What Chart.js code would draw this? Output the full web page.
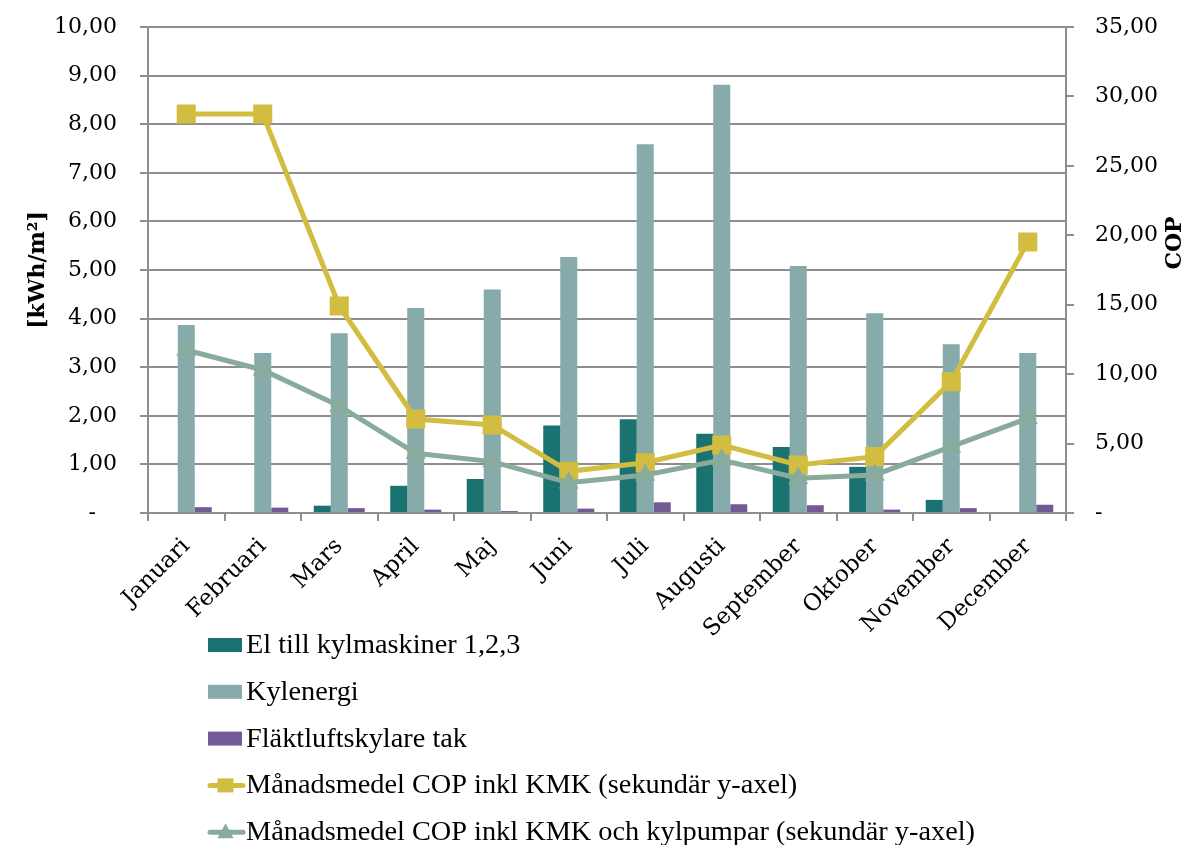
<!DOCTYPE html>
<html lang="sv">
<head>
<meta charset="utf-8">
<title>Kylenergi och COP per månad</title>
<script src="https://cdn.jsdelivr.net/npm/chart.js@4/dist/chart.umd.min.js"></script>
<style>
  html, body { margin: 0; padding: 0; background: #ffffff; }
  #wrap { width: 1189px; height: 845px; position: relative; }
</style>
</head>
<body>
<div id="wrap"><canvas id="chart" width="1189" height="845"></canvas></div>
<script>
// Månader
const months = ['Januari', 'Februari', 'Mars', 'April', 'Maj', 'Juni', 'Juli',
                'Augusti', 'September', 'Oktober', 'November', 'December'];

// Primär axel [kWh/m²]
const elKylmaskiner = [0.00, 0.00, 0.15, 0.56, 0.70, 1.80, 1.93, 1.63, 1.36, 0.95, 0.27, 0.00];
const kylenergi     = [3.87, 3.29, 3.70, 4.22, 4.60, 5.27, 7.59, 8.81, 5.08, 4.11, 3.47, 3.29];
const flaktluft     = [0.12, 0.11, 0.10, 0.07, 0.04, 0.09, 0.22, 0.18, 0.16, 0.07, 0.10, 0.17];

// Sekundär axel (COP)
const copKmk        = [28.73, 28.73, 14.91, 6.77, 6.34, 3.00, 3.62, 4.90, 3.46, 4.06, 9.46, 19.52];
const copKmkPumpar  = [11.74, 10.30, 7.71, 4.30, 3.70, 2.18, 2.74, 3.82, 2.50, 2.74, 4.78, 6.82];

// Axelgränser
const primaryMax = 10, primaryStep = 1;
const secondaryMax = 35, secondaryStep = 5;

const labels = {
  el: 'El till kylmaskiner 1,2,3',
  kyl: 'Kylenergi',
  flakt: 'Fläktluftskylare tak',
  cop1: 'Månadsmedel COP inkl KMK (sekundär y-axel)',
  cop2: 'Månadsmedel COP inkl KMK och kylpumpar (sekundär y-axel)'
};

const C = {
  teal: '#1A7370',
  kyl: '#87AAAA',
  purple: '#735A96',
  yellow: '#D2BD41',
  sage: '#88AB9C',
  grid: '#8E8E8E',
  text: '#000000'
};

const SERIF = '"DejaVu Serif", "Liberation Serif", serif';

function fmt(v) {
  if (Math.abs(v) < 1e-9) return '-';
  return v.toFixed(2).replace('.', ',');
}

// Fast axelbredd utan extra marginal ovanför/under diagramytan
function fixedWidth(w) {
  return function (scale) {
    scale.width = w;
    scale.paddingTop = 0;
    scale.paddingBottom = 0;
  };
}

// Axeltitlar och förklaring ritas på canvasen
const decorations = {
  id: 'decorations',
  afterDraw(chart) {
    const ctx = chart.ctx;
    const area = chart.chartArea;
    ctx.save();
    ctx.fillStyle = C.text;
    ctx.font = 'bold 22px ' + SERIF;
    ctx.textAlign = 'center';
    ctx.textBaseline = 'middle';

    ctx.save();
    ctx.translate(38, (area.top + area.bottom) / 2);
    ctx.rotate(-Math.PI / 2);
    ctx.fillText('[kWh/m²]', 0, 0);
    ctx.restore();

    ctx.save();
    ctx.translate(1175, 243);
    ctx.rotate(-Math.PI / 2);
    ctx.fillText('COP', 0, 0);
    ctx.restore();

    // Förklaring: en post per rad
    const ds = chart.data.datasets;
    const x0 = 208, sw = 35, textX = 246, rowY0 = 645, rowGap = 46.8;
    ctx.font = '27px "Liberation Serif", serif';
    let longest = 0;
    ds.forEach(d => { longest = Math.max(longest, ctx.measureText(d.label).width); });
    const sx = 729 / longest;

    ds.forEach((d, i) => {
      const y = rowY0 + i * rowGap;
      if (d.type === 'line') {
        ctx.strokeStyle = d.borderColor;
        ctx.lineWidth = 5;
        ctx.lineCap = 'round';
        ctx.beginPath();
        ctx.moveTo(x0 + 2, y);
        ctx.lineTo(x0 + sw, y);
        ctx.stroke();
        ctx.fillStyle = d.backgroundColor;
        const cx = x0 + sw / 2;
        if (d.pointStyle === 'rect') {
          ctx.fillRect(cx - 8, y - 7, 16, 14);
        } else {
          ctx.beginPath();
          ctx.moveTo(cx, y - 9);
          ctx.lineTo(cx + 8, y + 6);
          ctx.lineTo(cx - 8, y + 6);
          ctx.closePath();
          ctx.fill();
        }
      } else {
        ctx.fillStyle = d.backgroundColor;
        ctx.fillRect(x0, y - 7, sw - 1, 14);
      }
      ctx.save();
      ctx.fillStyle = C.text;
      ctx.textAlign = 'left';
      ctx.textBaseline = 'middle';
      ctx.translate(textX, y + 1);
      ctx.scale(sx, 1);
      ctx.fillText(d.label, 0, 0);
      ctx.restore();
    });
    ctx.restore();
  }
};

const barCommon = {
  type: 'bar',
  yAxisID: 'y',
  categoryPercentage: 0.667,
  barPercentage: 1.0,
  borderWidth: 0,
  order: 2
};

const lineCommon = {
  type: 'line',
  yAxisID: 'y1',
  borderWidth: 5,
  tension: 0,
  fill: false
};

new Chart(document.getElementById('chart'), {
  data: {
    labels: months,
    datasets: [
      Object.assign({}, barCommon, { label: labels.el, data: elKylmaskiner, backgroundColor: C.teal }),
      Object.assign({}, barCommon, { label: labels.kyl, data: kylenergi, backgroundColor: C.kyl }),
      Object.assign({}, barCommon, { label: labels.flakt, data: flaktluft, backgroundColor: C.purple }),
      Object.assign({}, lineCommon, {
        label: labels.cop1, data: copKmk, order: 1,
        borderColor: C.yellow, backgroundColor: C.yellow,
        pointStyle: 'rect', pointRadius: 13.5, pointBorderWidth: 0,
        pointBackgroundColor: C.yellow
      }),
      Object.assign({}, lineCommon, {
        label: labels.cop2, data: copKmkPumpar, order: 0,
        borderColor: C.sage, backgroundColor: C.sage,
        pointStyle: 'triangle', pointRadius: 11.5, pointBorderWidth: 0,
        pointBackgroundColor: C.sage
      })
    ]
  },
  options: {
    responsive: false,
    animation: false,
    devicePixelRatio: 1,
    layout: { autoPadding: false, padding: { top: 27, left: 0, right: 0, bottom: 0 } },
    plugins: {
      legend: { display: false },
      tooltip: { enabled: false },
      title: { display: false }
    },
    scales: {
      x: {
        type: 'category',
        offset: true,
        grid: {
          offset: true,
          drawOnChartArea: false,
          drawTicks: true,
          tickLength: 8,
          color: C.grid,
          lineWidth: 2
        },
        border: { color: C.grid, width: 2 },
        ticks: {
          minRotation: 45,
          maxRotation: 45,
          autoSkip: false,
          padding: 12,
          color: C.text,
          font: { family: SERIF, size: 23 }
        },
        afterFit(scale) {
          scale.height = 332;
          scale.paddingLeft = 0;
          scale.paddingRight = 0;
        }
      },
      y: {
        position: 'left',
        min: 0,
        max: primaryMax,
        grid: {
          drawOnChartArea: true,
          drawTicks: true,
          tickLength: 8,
          color: C.grid,
          lineWidth: 2
        },
        border: { color: C.grid, width: 2 },
        ticks: {
          stepSize: primaryStep,
          padding: 23,
          color: C.text,
          font: { family: SERIF, size: 22 },
          callback: v => (Math.abs(v) < 1e-9 ? '-   ' : fmt(v))
        },
        afterFit: fixedWidth(148)
      },
      y1: {
        position: 'right',
        min: 0,
        max: secondaryMax,
        grid: {
          drawOnChartArea: false,
          drawTicks: true,
          tickLength: 8,
          color: C.grid,
          lineWidth: 2
        },
        border: { color: C.grid, width: 2 },
        ticks: {
          stepSize: secondaryStep,
          padding: 21,
          color: C.text,
          font: { family: SERIF, size: 22 },
          callback: v => fmt(v)
        },
        afterFit: fixedWidth(123)
      }
    }
  },
  plugins: [decorations]
});
</script>
</body>
</html>
